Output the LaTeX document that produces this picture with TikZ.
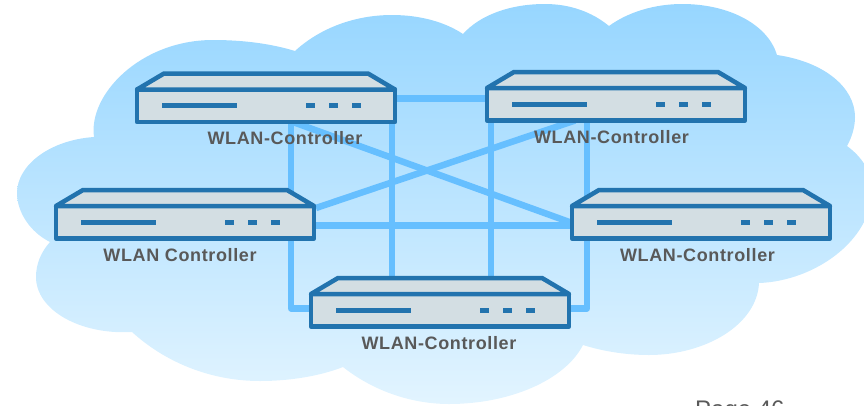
\documentclass[tikz,border=0pt]{standalone}
\usepackage{fontspec}
\setmainfont{Liberation Sans}[LetterSpace=3.5]
\newfontfamily\pagefont{Liberation Sans}
\usetikzlibrary{backgrounds}
\definecolor{cloudtop}{HTML}{97D6FF}
\definecolor{cloudbot}{HTML}{E2F4FF}
\definecolor{linkblue}{HTML}{66BFFF}
\definecolor{devline}{HTML}{2273AE}
\definecolor{devfill}{HTML}{D3DEE3}
\definecolor{labgrey}{HTML}{595959}
\tikzset{
  x=1pt,y=-1pt,
  front/.style={draw=devline,fill=devfill,line width=4.5pt,line join=round,minimum width=258pt,minimum height=32.5pt,inner sep=0pt,outer sep=0pt,anchor=north west},
  lid/.style={draw=devline,fill=devfill,line width=4.5pt,line join=round},
  mark line/.style={draw=devline,line width=5pt},
  link/.style={draw=linkblue,line width=6.5pt,line join=round},
  devlabel/.style={text=labgrey,font=\fontsize{18}{20}\selectfont\bfseries,inner sep=0pt}
}
% name, left, top
\newcommand{\wdevice}[3]{%
  \node[front] (#1) at (#2,#3) {};
  \path[lid] (#1.north west) -- ++(27,-16) -- ([shift={(-27pt,16pt)}]#1.north east) -- (#1.north east) -- cycle;
  \draw[mark line] ([shift={(25pt,-16pt)}]#1.north west) -- ++(75,0);
  \draw[mark line] ([shift={(169pt,-16pt)}]#1.north west) -- ++(8.5,0);
  \draw[mark line] ([shift={(192pt,-16pt)}]#1.north west) -- ++(8.5,0);
  \draw[mark line] ([shift={(215pt,-16pt)}]#1.north west) -- ++(8.5,0);
}
\begin{document}
\begin{tikzpicture}
\useasboundingbox (0,0) rectangle (864,405);
\wdevice{ctla}{137}{89.5}
\wdevice{ctlb}{487}{88}
\wdevice{ctlc}{56}{206}
\wdevice{ctld}{572}{206}
\wdevice{ctle}{311}{294}
\node[devlabel] (laba) at (285,138) {WLAN-Controller};
\node[devlabel] (labb) at (611.5,137) {WLAN-Controller};
\node[devlabel] (labc) at (180,255) {WLAN Controller};
\node[devlabel] (labd) at (697.5,255) {WLAN-Controller};
\node[devlabel] (labe) at (439,343) {WLAN-Controller};
\node[anchor=base west,inner sep=0pt,text=labgrey,font=\pagefont\fontsize{24}{28}\selectfont] (pagenum) at (695,417) {Page 46};
\begin{pgfonlayer}{background}
\shade[top color=cloudtop,bottom color=cloudbot]
  (94,137)
  .. controls (88,95) and (140,40) .. (213,40)
  .. controls (245,40) and (272,44) .. (295,51)
  .. controls (320,28) and (355,15) .. (392,15)
  .. controls (420,15) and (445,22) .. (463,34)
  .. controls (480,15) and (510,4) .. (545,4)
  .. controls (570,4) and (592,12) .. (609,26)
  .. controls (628,12) and (655,4) .. (682,4)
  .. controls (730,4) and (768,25) .. (777,55)
  .. controls (825,62) and (855,88) .. (855,117)
  .. controls (855,127) and (852,137) .. (847,146)
  .. controls (862,157) and (872,172) .. (872,190)
  .. controls (872,240) and (815,281) .. (759,283)
  .. controls (757,325) and (705,355) .. (649,355)
  .. controls (625,355) and (602,351) .. (583,345)
  .. controls (565,380) and (510,404) .. (449,404)
  .. controls (410,404) and (372,390) .. (343,367)
  .. controls (320,376) and (290,381) .. (260,381)
  .. controls (210,381) and (165,362) .. (132,332)
  .. controls (80,335) and (36,310) .. (36,277)
  .. controls (36,264) and (41,252) .. (50,242)
  .. controls (30,232) and (17,212) .. (17,193)
  .. controls (17,165) and (50,140) .. (94,137)
  -- cycle;
\draw[link] ([yshift=7.5pt]ctla.east) -- ([yshift=6pt]ctlb.west);
\draw[link] ([yshift=-3pt]ctlc.east) -- ([yshift=-3pt]ctld.west);
\draw[link] ([xshift=156pt]ctla.south west) -- ([xshift=-2pt]ctld.west);
\draw[link] ([shift={(2pt,-2pt)}]ctlc.north east) -- ([xshift=88pt]ctlb.south west);
\draw[link] ([xshift=-3pt]ctla.south east) -- ([xshift=81pt]ctle.north west);
\draw[link] ([xshift=4pt]ctlb.south west) -- ([xshift=180pt]ctle.north west);
\draw[link] ([xshift=154pt]ctla.south west) |- ([yshift=2pt]ctle.west);
\draw[link] ([xshift=100pt]ctlb.south west) |- ([yshift=2pt]ctle.east);
\end{pgfonlayer}
\end{tikzpicture}
\end{document}
